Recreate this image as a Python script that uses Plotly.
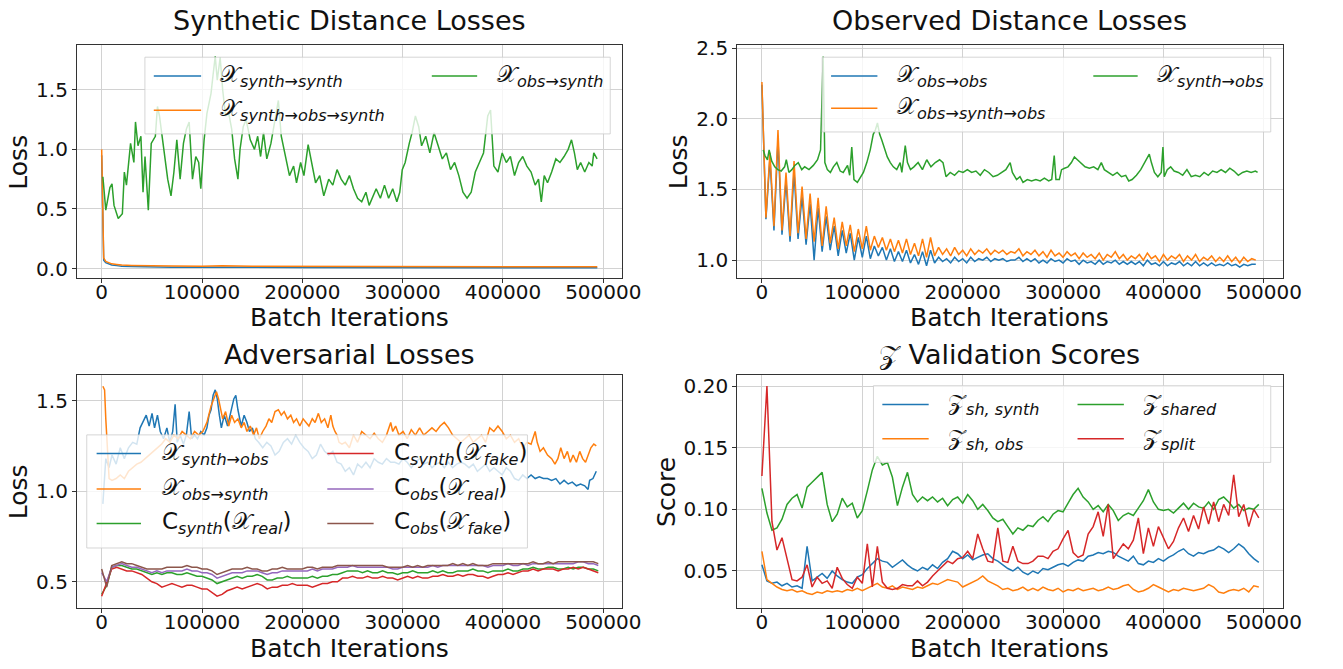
import numpy as np
import plotly.graph_objects as go

W, H = 1343, 669
FONT = "DejaVu Sans"
BLUE, ORANGE, GREEN, RED, PURPLE, BROWN = (
    "#1f77b4", "#ff7f0e", "#2ca02c", "#d62728", "#9467bd", "#8c564b")

# ---------------- Synthetic distance losses ----------------
P1_RECON_ITER = [0, 2000, 4000, 7000, 10000, 15000, 20000, 30000, 40000, 50000, 70000,
                 100000, 120000, 150000, 200000, 250000, 300000, 350000, 400000, 450000, 494000]
P1_SYNTH_SYNTH = [0.95, 0.07, 0.05, 0.04, 0.03, 0.025, 0.02, 0.017, 0.015, 0.012, 0.012,
                  0.011, 0.013, 0.011, 0.010, 0.009, 0.009, 0.008, 0.008, 0.007, 0.007]
P1_SYNTH_OBS_SYNTH = [1.0, 0.09, 0.06, 0.05, 0.04, 0.035, 0.03, 0.027, 0.025, 0.02, 0.021,
                      0.02, 0.023, 0.02, 0.018, 0.017, 0.017, 0.016, 0.016, 0.015, 0.015]
P1_OBS_SYNTH_ITER = [
    1200, 4100, 8200, 10300, 12300, 16500, 20600, 22600, 24700, 28800,
    32100, 33700, 36200, 39100, 41200, 43200, 46500, 49400, 53500, 55600,
    57600, 61700, 65800, 69100, 72000, 74900, 78200, 81500, 84400, 87200,
    90500, 93800, 96700, 98800, 102100, 104900, 109000, 111100, 113200, 115200,
    118100, 120600, 123500, 126700, 129600, 132500, 135800, 137900, 141100, 144000,
    148100, 152300, 155500, 158400, 161300, 164600, 168700, 172800, 176100, 179000,
    183100, 187200, 191300, 194200, 198300, 201600, 205800, 209900, 213200, 217300,
    221400, 226300, 230400, 234600, 238700, 242800, 246900, 251000, 255100, 259200,
    263400, 266600, 269500, 273600, 277800, 281900, 286000, 290100, 294200, 297100,
    299600, 302500, 306600, 309400, 312700, 316000, 318900, 323000, 327100, 331300,
    335400, 339500, 343600, 347700, 351800, 356000, 360100, 364200, 368300, 372400,
    376500, 380600, 384800, 387600, 390900, 395000, 399200, 403300, 407400, 411500,
    415600, 419700, 423800, 428000, 432100, 435400, 438200, 441100, 444400, 448500,
    452700, 456800, 460900, 465000, 468300, 471200, 474100, 477400, 481500, 485600,
    488900, 490500, 493800]
P1_OBS_SYNTH = [
    0.77, 0.49, 0.68, 0.71, 0.53, 0.42, 0.46, 0.81, 0.70, 1.05,
    0.89, 1.23, 1.03, 1.11, 0.64, 0.94, 0.49, 1.05, 1.11, 1.36,
    1.28, 1.00, 0.75, 0.61, 0.81, 1.08, 0.75, 1.05, 1.17, 1.23,
    0.75, 0.94, 0.89, 0.67, 1.08, 1.30, 1.47, 1.63, 1.78, 1.58,
    1.77, 1.50, 1.28, 1.30, 1.17, 0.92, 0.75, 1.00, 1.19, 1.25,
    1.08, 1.00, 1.11, 0.94, 1.14, 0.92, 1.05, 1.25, 1.41, 1.11,
    0.94, 0.78, 0.86, 0.72, 0.89, 0.78, 1.04, 0.86, 0.72, 0.78,
    0.61, 0.75, 0.70, 0.83, 0.75, 0.70, 0.78, 0.67, 0.59, 0.56,
    0.64, 0.53, 0.59, 0.67, 0.59, 0.70, 0.59, 0.67, 0.56, 0.64,
    0.83, 0.89, 1.05, 1.14, 1.28, 1.19, 1.03, 1.11, 0.97, 1.14,
    1.03, 0.92, 0.97, 0.83, 0.89, 0.78, 0.64, 0.59, 0.64, 0.81,
    0.89, 0.97, 1.28, 1.33, 0.86, 0.81, 0.97, 0.89, 0.94, 0.78,
    0.89, 0.94, 0.86, 0.81, 0.70, 0.75, 0.56, 0.78, 0.72, 0.81,
    0.92, 0.89, 0.94, 1.00, 1.08, 0.97, 0.83, 0.89, 0.81, 0.89,
    0.86, 0.97, 0.92]

# ---------------- Observed distance losses ----------------
P2_RECON_ITER = list(range(0, 492001, 4000))
P2_OBS_OBS = [
    2.24, 1.29, 1.72, 1.21, 1.85, 1.18, 1.56, 1.13, 1.62, 1.15,
    1.45, 1.11, 1.40, 1.00, 1.37, 1.06, 1.31, 1.07, 1.24, 1.03,
    1.21, 1.05, 1.19, 1.00, 1.16, 1.02, 1.17, 1.01, 1.10, 1.03,
    1.09, 1.00, 1.08, 0.99, 1.06, 0.99, 1.07, 0.98, 1.04, 0.97,
    1.06, 0.96, 1.07, 0.98, 1.02, 0.99, 1.01, 0.98, 1.02, 0.99,
    1.01, 0.98, 1.02, 0.99, 1.01, 1.00, 1.02, 0.99, 1.01, 1.00,
    1.01, 0.99, 1.00, 1.00, 1.02, 0.99, 1.01, 0.99, 1.01, 0.98,
    1.00, 0.98, 1.01, 0.99, 1.00, 0.98, 1.01, 0.99, 1.00, 0.97,
    1.00, 0.98, 0.99, 0.97, 1.00, 0.97, 0.99, 0.98, 1.00, 0.97,
    0.99, 0.97, 0.99, 0.97, 0.99, 0.96, 1.00, 0.97, 0.98, 0.96,
    0.99, 0.96, 0.98, 0.97, 0.99, 0.96, 0.98, 0.96, 0.99, 0.96,
    0.98, 0.96, 0.98, 0.96, 0.97, 0.96, 0.98, 0.96, 0.97, 0.95,
    0.97, 0.96, 0.97, 0.97]
P2_OBS_SYNTH_OBS = [
    2.26, 1.30, 1.76, 1.24, 1.92, 1.21, 1.62, 1.17, 1.70, 1.19,
    1.52, 1.15, 1.47, 1.13, 1.44, 1.10, 1.38, 1.12, 1.30, 1.08,
    1.27, 1.10, 1.25, 1.06, 1.22, 1.08, 1.24, 1.07, 1.17, 1.09,
    1.16, 1.07, 1.15, 1.06, 1.14, 1.05, 1.15, 1.04, 1.12, 1.03,
    1.15, 1.02, 1.16, 1.03, 1.09, 1.04, 1.08, 1.03, 1.09, 1.04,
    1.07, 1.03, 1.08, 1.04, 1.07, 1.05, 1.08, 1.04, 1.07, 1.05,
    1.07, 1.04, 1.06, 1.05, 1.08, 1.03, 1.06, 1.04, 1.07, 1.03,
    1.06, 1.02, 1.07, 1.03, 1.05, 1.02, 1.06, 1.03, 1.05, 1.01,
    1.05, 1.02, 1.04, 1.01, 1.05, 1.00, 1.04, 1.02, 1.06, 1.01,
    1.04, 1.00, 1.03, 1.01, 1.04, 1.00, 1.05, 1.01, 1.03, 0.99,
    1.04, 1.00, 1.03, 1.01, 1.04, 0.99, 1.03, 1.00, 1.04, 0.99,
    1.02, 1.00, 1.03, 0.99, 1.02, 0.99, 1.03, 0.99, 1.02, 0.98,
    1.02, 0.99, 1.01, 1.00]
P2_SYNTH_OBS_ITER = [
    1300, 3000, 5500, 7200, 9800, 12800, 15800, 19200, 22600, 24300,
    26900, 29800, 32800, 36200, 39700, 42600, 46900, 51200, 55400, 58400,
    61000, 62700, 65200, 68200, 71200, 74600, 78000, 81000, 85300, 87400,
    89500, 91700, 95100, 98100, 101100, 104500, 107900, 110900, 113000, 115100,
    117300, 119400, 121500, 124900, 127900, 130900, 134300, 137700, 139400, 142800,
    145000, 148000, 151400, 155600, 159900, 164200, 168400, 172700, 177000, 180400,
    183400, 187600, 191900, 196100, 200400, 204700, 208900, 213200, 217500, 221700,
    226000, 230300, 234500, 238800, 243000, 247300, 249500, 253700, 257100, 260100,
    264400, 268600, 272900, 277200, 281400, 285700, 288700, 291200, 292900, 296300,
    298500, 301500, 304900, 308300, 311300, 314300, 317700, 321900, 326200, 330500,
    334700, 338100, 341100, 345400, 349600, 353900, 358200, 362400, 365400, 368800,
    373100, 377400, 381600, 385900, 388000, 391000, 394400, 397800, 399500, 400800,
    403800, 407200, 410600, 414900, 419200, 423400, 427700, 431900, 436200, 440500,
    444700, 449000, 453300, 457500, 461800, 466100, 470300, 474600, 478800, 483100,
    487400, 491600, 493800]
P2_SYNTH_OBS = [
    1.78, 1.74, 1.71, 1.78, 1.70, 1.66, 1.64, 1.63, 1.66, 1.71,
    1.62, 1.64, 1.67, 1.69, 1.64, 1.66, 1.64, 1.67, 1.71, 1.78,
    2.44, 1.69, 1.64, 1.62, 1.66, 1.69, 1.63, 1.62, 1.67, 1.60,
    1.80, 1.57, 1.55, 1.59, 1.62, 1.69, 1.78, 1.89, 1.92, 1.97,
    1.89, 1.85, 1.80, 1.73, 1.69, 1.66, 1.64, 1.69, 1.62, 1.81,
    1.69, 1.64, 1.66, 1.69, 1.64, 1.71, 1.66, 1.69, 1.71, 1.69,
    1.59, 1.62, 1.60, 1.63, 1.62, 1.64, 1.62, 1.63, 1.60, 1.64,
    1.62, 1.59, 1.60, 1.62, 1.64, 1.69, 1.62, 1.57, 1.59, 1.55,
    1.57, 1.56, 1.57, 1.56, 1.58, 1.56, 1.57, 1.74, 1.57, 1.57,
    1.64, 1.65, 1.66, 1.69, 1.73, 1.71, 1.69, 1.66, 1.65, 1.66,
    1.64, 1.69, 1.64, 1.62, 1.60, 1.62, 1.59, 1.60, 1.56, 1.57,
    1.60, 1.64, 1.69, 1.75, 1.69, 1.62, 1.59, 1.62, 1.80, 1.59,
    1.64, 1.66, 1.63, 1.62, 1.60, 1.64, 1.59, 1.60, 1.59, 1.62,
    1.60, 1.63, 1.62, 1.64, 1.62, 1.65, 1.63, 1.60, 1.62, 1.63,
    1.62, 1.63, 1.62]

# ---------------- Adversarial losses ----------------
P3_GEN_SYNTH_OBS_ITER = [
    1200, 4100, 7400, 10300, 14400, 18500, 22600, 26700, 30900, 35000,
    38300, 41200, 44400, 47300, 50200, 52700, 55600, 58400, 61700, 65000,
    67900, 70800, 73200, 75300, 78200, 81500, 84400, 87200, 89700, 92600,
    95500, 98800, 102100, 104900, 107000, 109000, 111100, 113200, 115200, 117300,
    119300, 122200, 125500, 128800, 131700, 133700, 135800, 139100, 142000, 144800,
    147300, 150200, 153100, 156400, 160500, 164600, 168700, 172800, 176900, 181100,
    185200, 189300, 193400, 197500, 201600, 205800, 209900, 214000, 218100, 222200,
    226300, 230400, 234600, 238700, 242800, 246900, 251000, 255100, 259200, 263400,
    267500, 271600, 275700, 279800, 283900, 288100, 292200, 296300, 300400, 304500,
    308600, 312700, 316900, 321000, 325100, 329200, 333300, 337400, 341500, 345700,
    349800, 353900, 358000, 362100, 366200, 370400, 374500, 378600, 382700, 386800,
    390900, 395000, 399200, 403300, 407400, 411500, 415600, 419700, 423800, 428000,
    432100, 436200, 440300, 444400, 448500, 452700, 456800, 460900, 465000, 469100,
    473200, 477300, 481500, 484800, 486400, 489700, 493000]
P3_GEN_SYNTH_OBS = [
    0.93, 1.18, 1.13, 1.20, 1.15, 1.24, 1.18, 1.24, 1.27, 1.26,
    1.35, 1.38, 1.42, 1.36, 1.43, 1.35, 1.42, 1.33, 1.29, 1.35,
    1.27, 1.33, 1.48, 1.27, 1.31, 1.26, 1.31, 1.44, 1.29, 1.31,
    1.29, 1.33, 1.31, 1.35, 1.42, 1.45, 1.53, 1.56, 1.51, 1.42,
    1.35, 1.42, 1.36, 1.44, 1.51, 1.53, 1.45, 1.36, 1.42, 1.38,
    1.33, 1.35, 1.29, 1.27, 1.24, 1.27, 1.25, 1.20, 1.22, 1.27,
    1.29, 1.26, 1.31, 1.27, 1.24, 1.22, 1.18, 1.20, 1.26, 1.22,
    1.20, 1.22, 1.16, 1.15, 1.11, 1.13, 1.09, 1.15, 1.13, 1.16,
    1.13, 1.18, 1.16, 1.15, 1.18, 1.16, 1.16, 1.15, 1.18, 1.16,
    1.13, 1.16, 1.18, 1.15, 1.16, 1.13, 1.15, 1.16, 1.13, 1.16,
    1.13, 1.15, 1.16, 1.15, 1.13, 1.15, 1.11, 1.13, 1.15, 1.11,
    1.13, 1.11, 1.09, 1.13, 1.11, 1.07, 1.06, 1.09, 1.07, 1.09,
    1.07, 1.08, 1.07, 1.07, 1.06, 1.07, 1.04, 1.06, 1.04, 1.05,
    1.03, 1.04, 1.03, 1.01, 1.06, 1.07, 1.11]
P3_GEN_OBS_SYNTH_ITER = [
    1200, 2900, 4100, 5800, 7400, 10300, 14400, 18500, 22600, 26700,
    30900, 35000, 39100, 43200, 47300, 51400, 55600, 59700, 63800, 67900,
    72000, 76100, 80200, 84400, 88500, 92600, 96700, 100800, 104900, 109000,
    111900, 114400, 116500, 118500, 120600, 123500, 126700, 129600, 132500, 135800,
    139100, 142000, 144800, 148100, 151400, 154300, 157200, 160500, 163800, 166700,
    169500, 172800, 176100, 179000, 181900, 185200, 188500, 191300, 194200, 197500,
    200800, 203700, 206600, 209900, 212700, 216000, 218900, 222200, 225500, 228400,
    230400, 232500, 234600, 236600, 239500, 242800, 246900, 251000, 255100, 259200,
    263400, 267500, 271600, 275700, 279800, 283900, 288100, 290100, 293000, 296300,
    300400, 304500, 308600, 312700, 316900, 321000, 325100, 329200, 333300, 337400,
    341500, 345700, 349800, 353900, 358000, 362100, 366200, 370400, 374500, 378600,
    382700, 386800, 390900, 395000, 399200, 403300, 407400, 411500, 415600, 419700,
    423800, 428000, 432100, 434100, 437000, 440300, 444400, 448500, 451800, 454700,
    457600, 460900, 464200, 467100, 469900, 473200, 476500, 479400, 482300, 484800,
    487600, 490500, 493000]
P3_GEN_OBS_SYNTH = [
    1.58, 1.56, 1.40, 1.18, 1.07, 1.06, 1.07, 1.09, 1.07, 1.11,
    1.13, 1.15, 1.16, 1.18, 1.20, 1.22, 1.24, 1.26, 1.29, 1.27,
    1.31, 1.29, 1.33, 1.31, 1.29, 1.33, 1.31, 1.33, 1.38, 1.47,
    1.51, 1.55, 1.51, 1.45, 1.40, 1.44, 1.36, 1.42, 1.38, 1.40,
    1.35, 1.38, 1.33, 1.36, 1.31, 1.35, 1.29, 1.33, 1.36, 1.40,
    1.38, 1.44, 1.45, 1.42, 1.44, 1.40, 1.42, 1.38, 1.40, 1.36,
    1.40, 1.38, 1.36, 1.40, 1.38, 1.43, 1.38, 1.40, 1.35, 1.42,
    1.36, 1.33, 1.31, 1.27, 1.26, 1.27, 1.24, 1.31, 1.27, 1.33,
    1.31, 1.29, 1.32, 1.29, 1.27, 1.31, 1.38, 1.33, 1.36, 1.31,
    1.33, 1.29, 1.34, 1.31, 1.35, 1.31, 1.33, 1.35, 1.33, 1.36,
    1.38, 1.35, 1.31, 1.29, 1.27, 1.29, 1.31, 1.27, 1.29, 1.31,
    1.27, 1.35, 1.33, 1.36, 1.33, 1.29, 1.31, 1.27, 1.29, 1.24,
    1.27, 1.26, 1.33, 1.27, 1.22, 1.24, 1.20, 1.18, 1.15, 1.18,
    1.24, 1.18, 1.22, 1.16, 1.20, 1.16, 1.22, 1.18, 1.16, 1.20,
    1.24, 1.26, 1.25]
P3_CRITIC_ITER = list(range(0, 495001, 5000))
P3_CSYNTH_REAL = [
    0.43, 0.48, 0.58, 0.59, 0.59, 0.58, 0.57, 0.57, 0.56, 0.55,
    0.54, 0.55, 0.54, 0.55, 0.55, 0.54, 0.54, 0.55, 0.54, 0.53,
    0.53, 0.52, 0.51, 0.49, 0.50, 0.51, 0.52, 0.53, 0.52, 0.53,
    0.53, 0.54, 0.53, 0.51, 0.51, 0.52, 0.52, 0.53, 0.52, 0.52,
    0.52, 0.52, 0.53, 0.52, 0.53, 0.53, 0.54, 0.54, 0.55, 0.56,
    0.56, 0.56, 0.55, 0.56, 0.55, 0.55, 0.56, 0.55, 0.55, 0.54,
    0.55, 0.55, 0.56, 0.55, 0.55, 0.55, 0.56, 0.55, 0.56, 0.55,
    0.55, 0.56, 0.56, 0.56, 0.57, 0.56, 0.56, 0.55, 0.56, 0.56,
    0.56, 0.57, 0.56, 0.56, 0.57, 0.57, 0.58, 0.57, 0.57, 0.58,
    0.58, 0.57, 0.57, 0.58, 0.57, 0.58, 0.58, 0.57, 0.57, 0.56]
P3_CSYNTH_FAKE = [
    0.42, 0.50, 0.57, 0.58, 0.57, 0.56, 0.56, 0.55, 0.54, 0.52,
    0.50, 0.49, 0.47, 0.48, 0.49, 0.48, 0.47, 0.48, 0.48, 0.47,
    0.46, 0.46, 0.44, 0.42, 0.43, 0.45, 0.46, 0.47, 0.46, 0.47,
    0.48, 0.49, 0.48, 0.46, 0.47, 0.47, 0.48, 0.48, 0.49, 0.48,
    0.48, 0.48, 0.47, 0.48, 0.49, 0.49, 0.50, 0.50, 0.52, 0.52,
    0.53, 0.52, 0.52, 0.53, 0.52, 0.52, 0.53, 0.52, 0.52, 0.51,
    0.52, 0.53, 0.52, 0.53, 0.52, 0.52, 0.53, 0.53, 0.54, 0.53,
    0.53, 0.54, 0.53, 0.54, 0.54, 0.53, 0.53, 0.52, 0.53, 0.54,
    0.54, 0.55, 0.54, 0.55, 0.56, 0.56, 0.57, 0.56, 0.57, 0.57,
    0.57, 0.56, 0.57, 0.57, 0.58, 0.57, 0.58, 0.57, 0.56, 0.55]
P3_COBS_REAL = [
    0.55, 0.50, 0.58, 0.59, 0.60, 0.59, 0.58, 0.58, 0.57, 0.56,
    0.55, 0.56, 0.55, 0.56, 0.56, 0.56, 0.56, 0.57, 0.56, 0.56,
    0.55, 0.55, 0.54, 0.52, 0.53, 0.54, 0.55, 0.55, 0.55, 0.56,
    0.56, 0.56, 0.55, 0.54, 0.55, 0.55, 0.56, 0.56, 0.56, 0.56,
    0.56, 0.56, 0.57, 0.56, 0.57, 0.57, 0.57, 0.58, 0.58, 0.58,
    0.59, 0.58, 0.58, 0.58, 0.58, 0.58, 0.58, 0.58, 0.57, 0.57,
    0.58, 0.58, 0.58, 0.58, 0.58, 0.58, 0.59, 0.58, 0.59, 0.59,
    0.59, 0.59, 0.59, 0.59, 0.59, 0.59, 0.59, 0.58, 0.59, 0.59,
    0.59, 0.60, 0.59, 0.59, 0.60, 0.59, 0.60, 0.60, 0.60, 0.60,
    0.60, 0.60, 0.60, 0.60, 0.60, 0.61, 0.61, 0.60, 0.60, 0.59]
P3_COBS_FAKE = [
    0.57, 0.47, 0.59, 0.60, 0.61, 0.60, 0.60, 0.59, 0.58, 0.57,
    0.57, 0.57, 0.57, 0.58, 0.58, 0.58, 0.58, 0.59, 0.58, 0.58,
    0.57, 0.57, 0.56, 0.54, 0.55, 0.56, 0.57, 0.57, 0.57, 0.58,
    0.57, 0.57, 0.56, 0.56, 0.57, 0.57, 0.58, 0.57, 0.57, 0.57,
    0.57, 0.58, 0.58, 0.57, 0.58, 0.58, 0.58, 0.59, 0.59, 0.59,
    0.59, 0.59, 0.59, 0.59, 0.59, 0.59, 0.59, 0.58, 0.58, 0.58,
    0.58, 0.59, 0.58, 0.59, 0.58, 0.59, 0.59, 0.59, 0.59, 0.59,
    0.60, 0.59, 0.60, 0.59, 0.60, 0.59, 0.59, 0.59, 0.60, 0.60,
    0.60, 0.60, 0.60, 0.60, 0.60, 0.60, 0.61, 0.60, 0.60, 0.61,
    0.60, 0.61, 0.61, 0.61, 0.61, 0.61, 0.61, 0.61, 0.61, 0.60]

# ---------------- Z validation scores ----------------
P4_ITER = list(range(0, 495001, 5000))
P4_SH_SYNTH = [
    0.055, 0.042, 0.040, 0.041, 0.038, 0.040, 0.037, 0.038, 0.036, 0.070,
    0.042, 0.045, 0.048, 0.044, 0.050, 0.046, 0.043, 0.041, 0.040, 0.045,
    0.047, 0.052, 0.056, 0.060, 0.058, 0.057, 0.053, 0.056, 0.059, 0.055,
    0.052, 0.050, 0.053, 0.051, 0.055, 0.052, 0.057, 0.060, 0.066, 0.064,
    0.060, 0.063, 0.059, 0.061, 0.063, 0.064, 0.060, 0.058, 0.055, 0.052,
    0.050, 0.053, 0.049, 0.047, 0.050, 0.048, 0.052, 0.051, 0.053, 0.055,
    0.056, 0.054, 0.057, 0.059, 0.058, 0.062, 0.063, 0.065, 0.064, 0.066,
    0.065, 0.062, 0.060, 0.058, 0.062, 0.056, 0.055, 0.058, 0.057, 0.060,
    0.058, 0.061, 0.063, 0.066, 0.068, 0.064, 0.062, 0.065, 0.064, 0.066,
    0.067, 0.070, 0.068, 0.065, 0.068, 0.072, 0.069, 0.064, 0.060, 0.057]
P4_SH_OBS = [
    0.066, 0.043, 0.040, 0.037, 0.035, 0.034, 0.035, 0.033, 0.034, 0.032,
    0.031, 0.033, 0.032, 0.034, 0.033, 0.034, 0.033, 0.035, 0.034, 0.036,
    0.034, 0.036, 0.038, 0.040, 0.037, 0.036, 0.038, 0.035, 0.037, 0.036,
    0.035, 0.037, 0.036, 0.038, 0.040, 0.039, 0.041, 0.043, 0.042, 0.041,
    0.037, 0.039, 0.041, 0.043, 0.046, 0.042, 0.040, 0.038, 0.035, 0.036,
    0.034, 0.035, 0.037, 0.034, 0.036, 0.034, 0.037, 0.035, 0.034, 0.036,
    0.033, 0.035, 0.034, 0.036, 0.034, 0.035, 0.036, 0.034, 0.035, 0.037,
    0.035, 0.036, 0.038, 0.039, 0.035, 0.033, 0.034, 0.036, 0.039, 0.037,
    0.035, 0.033, 0.035, 0.034, 0.036, 0.035, 0.034, 0.035, 0.036, 0.039,
    0.037, 0.033, 0.032, 0.034, 0.035, 0.034, 0.036, 0.033, 0.038, 0.037]
P4_SHARED = [
    0.117, 0.097, 0.083, 0.085, 0.092, 0.104, 0.109, 0.112, 0.101, 0.118,
    0.122, 0.126, 0.130, 0.104, 0.090, 0.096, 0.109, 0.102, 0.105, 0.093,
    0.099, 0.115, 0.132, 0.143, 0.136, 0.138, 0.126, 0.103, 0.118, 0.130,
    0.112, 0.106, 0.110, 0.107, 0.110, 0.106, 0.109, 0.103, 0.108, 0.110,
    0.105, 0.112, 0.107, 0.100, 0.104, 0.099, 0.093, 0.090, 0.092, 0.086,
    0.080, 0.085, 0.083, 0.087, 0.086, 0.091, 0.094, 0.090, 0.096, 0.099,
    0.098, 0.105, 0.112, 0.117, 0.110, 0.106, 0.100, 0.103, 0.098, 0.104,
    0.099, 0.091, 0.095, 0.097, 0.095, 0.101, 0.107, 0.116, 0.106, 0.100,
    0.099, 0.100, 0.097, 0.101, 0.105, 0.100, 0.105, 0.102, 0.101, 0.106,
    0.100, 0.108, 0.110, 0.106, 0.101, 0.104, 0.099, 0.101, 0.100, 0.104]
P4_SPLIT = [
    0.127, 0.200, 0.090, 0.067, 0.077, 0.060, 0.043, 0.042, 0.045, 0.055,
    0.037, 0.045, 0.040, 0.042, 0.036, 0.053, 0.044, 0.039, 0.036, 0.045,
    0.040, 0.072, 0.037, 0.070, 0.041, 0.036, 0.035, 0.036, 0.039, 0.038,
    0.038, 0.042, 0.038, 0.041, 0.046, 0.050, 0.054, 0.058, 0.056, 0.060,
    0.061, 0.066, 0.060, 0.080, 0.068, 0.058, 0.057, 0.085, 0.058, 0.057,
    0.070, 0.058, 0.056, 0.056, 0.058, 0.062, 0.062, 0.060, 0.066, 0.068,
    0.076, 0.083, 0.065, 0.061, 0.063, 0.080, 0.086, 0.098, 0.078, 0.104,
    0.060, 0.066, 0.072, 0.068, 0.075, 0.093, 0.064, 0.085, 0.070, 0.086,
    0.077, 0.068, 0.074, 0.085, 0.093, 0.082, 0.095, 0.084, 0.102, 0.088,
    0.106, 0.090, 0.104, 0.095, 0.128, 0.094, 0.104, 0.086, 0.100, 0.093]

X_TICKS = [0, 100000, 200000, 300000, 400000, 500000]
X_RANGE = [-24700, 518700]

# ---------------- figure ----------------
def fx(px):
    return px / W


def fy(py):
    return 1 - py / H


fig = go.Figure()


def add_line(x, y, color, name, n):
    fig.add_trace(go.Scatter(
        x=x, y=y, mode="lines", name=name, showlegend=False,
        line=dict(color=color, width=1.5),
        xaxis="x" if n == 1 else f"x{n}", yaxis="y" if n == 1 else f"y{n}"))


add_line(P1_RECON_ITER, P1_SYNTH_SYNTH, BLUE, "X synth->synth", 1)
add_line(P1_RECON_ITER, P1_SYNTH_OBS_SYNTH, ORANGE, "X synth->obs->synth", 1)
add_line(P1_OBS_SYNTH_ITER, P1_OBS_SYNTH, GREEN, "X obs->synth", 1)

add_line(P2_RECON_ITER, P2_OBS_OBS, BLUE, "X obs->obs", 2)
add_line(P2_RECON_ITER, P2_OBS_SYNTH_OBS, ORANGE, "X obs->synth->obs", 2)
add_line(P2_SYNTH_OBS_ITER, P2_SYNTH_OBS, GREEN, "X synth->obs", 2)

add_line(P3_GEN_SYNTH_OBS_ITER, P3_GEN_SYNTH_OBS, BLUE, "X synth->obs", 3)
add_line(P3_GEN_OBS_SYNTH_ITER, P3_GEN_OBS_SYNTH, ORANGE, "X obs->synth", 3)
add_line(P3_CRITIC_ITER, P3_CSYNTH_REAL, GREEN, "C synth(X real)", 3)
add_line(P3_CRITIC_ITER, P3_CSYNTH_FAKE, RED, "C synth(X fake)", 3)
add_line(P3_CRITIC_ITER, P3_COBS_REAL, PURPLE, "C obs(X real)", 3)
add_line(P3_CRITIC_ITER, P3_COBS_FAKE, BROWN, "C obs(X fake)", 3)

add_line(P4_ITER, P4_SH_SYNTH, BLUE, "Z sh,synth", 4)
add_line(P4_ITER, P4_SH_OBS, ORANGE, "Z sh,obs", 4)
add_line(P4_ITER, P4_SHARED, GREEN, "Z shared", 4)
add_line(P4_ITER, P4_SPLIT, RED, "Z split", 4)

XL = [fx(78), fx(631)]
XR = [fx(747.7), fx(1301)]
YT = [fy(274), fy(37)]
YB = [fy(609), fy(372.3)]

axis_style = dict(
    showline=True, linecolor="#333333", linewidth=1, mirror=True,
    ticks="outside", ticklen=4, tickwidth=1, tickcolor="#333333",
    showgrid=True, gridcolor="#d2d2d2", gridwidth=1, zeroline=False,
    tickfont=dict(family=FONT, size=20, color="#111111"))


def xax(domain, anchor):
    return dict(axis_style, domain=domain, anchor=anchor, range=X_RANGE,
                tickvals=X_TICKS, ticktext=[str(v) for v in X_TICKS],
                ticklabelstandoff=-8)


def yax(domain, anchor, rng, ticks, fmt):
    return dict(axis_style, domain=domain, anchor=anchor, range=rng,
                tickvals=ticks, ticktext=[fmt.format(t) for t in ticks])


fig.update_layout(
    width=W, height=H, margin=dict(l=0, r=0, t=0, b=0),
    paper_bgcolor="white", plot_bgcolor="white",
    font=dict(family=FONT, color="#111111"),
    xaxis=xax(XL, "y"), yaxis=yax(YT, "x", [-0.083, 1.872], [0.0, 0.5, 1.0, 1.5], "{:.1f}"),
    xaxis2=xax(XR, "y2"), yaxis2=yax(YT, "x2", [0.870, 2.519], [1.0, 1.5, 2.0, 2.5], "{:.1f}"),
    xaxis3=xax(XL, "y3"), yaxis3=yax(YB, "x3", [0.355, 1.641], [0.5, 1.0, 1.5], "{:.1f}"),
    xaxis4=xax(XR, "y4"), yaxis4=yax(YB, "x4", [0.020, 0.2088], [0.05, 0.10, 0.15, 0.20], "{:.2f}"),
)

annotations = []
shapes = []


def text(px, py, s, size, angle=0, xanchor="center"):
    annotations.append(dict(
        x=fx(px), y=fy(py), xref="paper", yref="paper", text=s, showarrow=False,
        xanchor=xanchor, yanchor="middle", textangle=angle,
        font=dict(family=FONT, size=size, color="#111111")))


# panel titles and axis titles
text(354.5, 12, "Synthetic Distance Losses", 27)
text(1024.3, 12, "Observed Distance Losses", 27)
text(354.5, 351, "Adversarial Losses", 27)
text(1024.3, 351, "𝒵 Validation Scores", 27)
for cx in (354.5, 1024.3):
    text(cx, 314, "Batch Iterations", 25)
    text(cx, 650, "Batch Iterations", 25)
text(19, 155.5, "Loss", 25, angle=-90)
text(689, 155.5, "Loss", 25, angle=-90)
text(19, 490.6, "Loss", 25, angle=-90)
text(676, 490.6, "Score", 25, angle=-90)


def legend_box(x0, y0, x1, y1, entries):
    shapes.append(dict(type="rect", xref="paper", yref="paper", layer="above",
                       x0=fx(x0), x1=fx(x1), y0=fy(y1), y1=fy(y0),
                       fillcolor="rgba(255,255,255,0.8)",
                       line=dict(color="rgba(204,204,204,0.8)", width=1)))
    for lx0, lx1, tx, ry, color, label in entries:
        shapes.append(dict(type="line", xref="paper", yref="paper", layer="above",
                           x0=fx(lx0), x1=fx(lx1), y0=fy(ry), y1=fy(ry),
                           line=dict(color=color, width=1.5)))
        text(tx, ry, label, 23, xanchor="left")


def sub(s):
    return f"<sub><i>{s}</i></sub>"


X = "𝒳"
Z = "𝒵"
legend_box(147, 49, 619, 127, [
    (156, 204, 221, 68, BLUE, X + sub("synth→synth")),
    (156, 204, 221, 103, ORANGE, X + sub("synth→obs→synth")),
    (438, 484, 502, 68, GREEN, X + sub("obs→synth")),
])
legend_box(834, 49, 1289, 125, [
    (843, 890, 908, 68, BLUE, X + sub("obs→obs")),
    (843, 890, 908, 101, ORANGE, X + sub("obs→synth→obs")),
    (1109, 1154, 1172, 68, GREEN, X + sub("synth→obs")),
])
legend_box(88, 433, 535, 548, [
    (98, 143, 162, 452, BLUE, X + sub("synth→obs")),
    (98, 143, 162, 488, ORANGE, X + sub("obs→synth")),
    (98, 143, 162, 523, GREEN, "C" + sub("synth") + "(" + X + sub("real") + ")"),
    (332, 379, 398, 452, RED, "C" + sub("synth") + "(" + X + sub("fake") + ")"),
    (332, 379, 398, 488, PURPLE, "C" + sub("obs") + "(" + X + sub("real") + ")"),
    (332, 379, 398, 523, BROWN, "C" + sub("obs") + "(" + X + sub("fake") + ")"),
])
legend_box(886, 383, 1289, 461, [
    (895, 942, 960, 402, BLUE, Z + sub("sh, synth")),
    (895, 942, 960, 437, ORANGE, Z + sub("sh, obs")),
    (1093, 1140, 1157, 402, GREEN, Z + sub("shared")),
    (1093, 1140, 1157, 437, RED, Z + sub("split")),
])

fig.update_layout(annotations=annotations, shapes=shapes)
fig.write_html("out.html")
